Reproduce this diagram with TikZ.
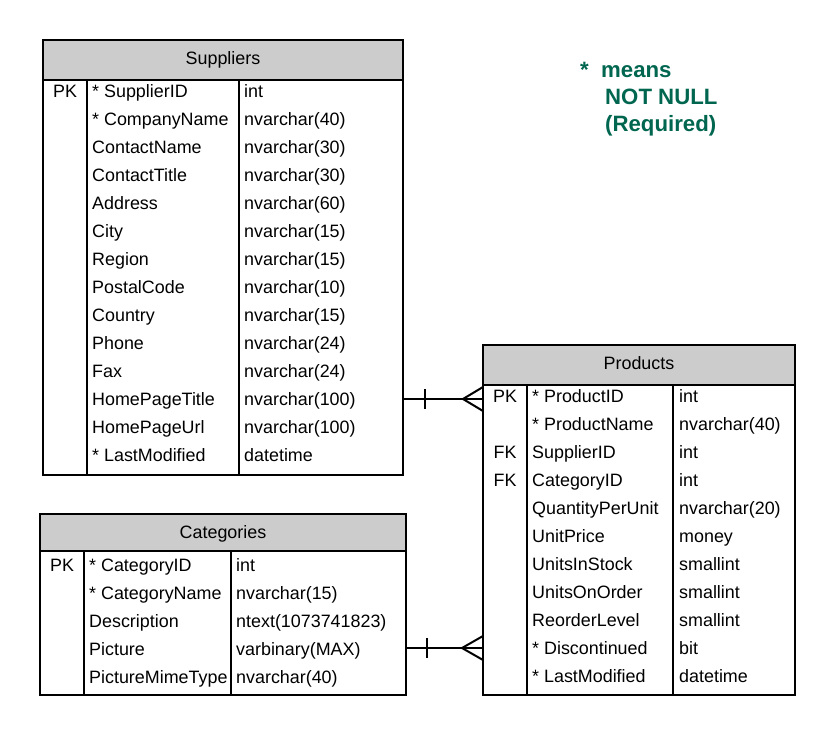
\documentclass[tikz,border=0pt]{standalone}
\usepackage{fontspec}
\setmainfont{Liberation Sans}
\definecolor{hdrgray}{HTML}{CCCCCC}
\definecolor{legendgreen}{HTML}{00664F}
\tikzset{
  tblbox/.style={draw=black, line width=2pt, outer sep=0pt, inner sep=0pt, anchor=north west},
  hdrfill/.style={fill=hdrgray, draw=black, line width=2pt},
  sep/.style={line width=2pt},
  cell/.style={anchor=base west, inner sep=0pt, font=\fontsize{17.9}{20}\selectfont},
  keycell/.style={anchor=base, inner sep=0pt, font=\fontsize{17.9}{20}\selectfont},
  titlecell/.style={anchor=base, inner sep=0pt, font=\fontsize{17.9}{20}\selectfont},
  legendtxt/.style={anchor=base west, inner sep=0pt, text=legendgreen, font=\bfseries\fontsize{22.2}{26}\selectfont},
  rel/.style={line width=2pt},
}
\begin{document}
\begin{tikzpicture}[x=1pt,y=-1pt]
\useasboundingbox (0,0) rectangle (835,736);

% ---------- Suppliers ----------
\filldraw[hdrfill] (43,40) rectangle (403,80);
\node[tblbox, minimum width=360pt, minimum height=435pt] (sup) at (43,40) {};
\draw[sep] (87,80) -- (87,475);
\draw[sep] (239,80) -- (239,475);
\node[titlecell] (sup-t) at (223,64) {Suppliers};
\node[keycell] (sup-pk) at (65,97) {PK};
\foreach \n/\t [count=\i from 0] in {{* SupplierID}/{int},{* CompanyName}/{nvarchar(40)},{ContactName}/{nvarchar(30)},{ContactTitle}/{nvarchar(30)},{Address}/{nvarchar(60)},{City}/{nvarchar(15)},{Region}/{nvarchar(15)},{PostalCode}/{nvarchar(10)},{Country}/{nvarchar(15)},{Phone}/{nvarchar(24)},{Fax}/{nvarchar(24)},{HomePageTitle}/{nvarchar(100)},{HomePageUrl}/{nvarchar(100)},{* LastModified}/{datetime}}{
  \node[cell] (sup-n\i) at (92,97+28*\i) {\n};
  \node[cell] (sup-t\i) at (244,97+28*\i) {\t};
}

% ---------- Products ----------
\filldraw[hdrfill] (483,345) rectangle (795,385);
\node[tblbox, minimum width=312pt, minimum height=350pt] (prod) at (483,345) {};
\draw[sep] (527,385) -- (527,695);
\draw[sep] (673,385) -- (673,695);
\node[titlecell] (prod-t) at (639,369) {Products};
\node[keycell] (prod-pk) at (505,402) {PK};
\node[keycell] (prod-fk1) at (505,458) {FK};
\node[keycell] (prod-fk2) at (505,486) {FK};
\foreach \n/\t [count=\i from 0] in {{* ProductID}/{int},{* ProductName}/{nvarchar(40)},{SupplierID}/{int},{CategoryID}/{int},{QuantityPerUnit}/{nvarchar(20)},{UnitPrice}/{money},{UnitsInStock}/{smallint},{UnitsOnOrder}/{smallint},{ReorderLevel}/{smallint},{* Discontinued}/{bit},{* LastModified}/{datetime}}{
  \node[cell] (prod-n\i) at (532,402+28*\i) {\n};
  \node[cell] (prod-t\i) at (679,402+28*\i) {\t};
}

% ---------- Categories ----------
\filldraw[hdrfill] (40,514) rectangle (406,551);
\node[tblbox, minimum width=366pt, minimum height=181pt] (cat) at (40,514) {};
\draw[sep] (84,551) -- (84,695);
\draw[sep] (231,551) -- (231,695);
\node[titlecell] (cat-t) at (223,538) {Categories};
\node[keycell] (cat-pk) at (62,571) {PK};
\foreach \n/\t [count=\i from 0] in {{* CategoryID}/{int},{* CategoryName}/{nvarchar(15)},{Description}/{ntext(1073741823)},{Picture}/{varbinary(MAX)},{PictureMimeType}/{nvarchar(40)}}{
  \node[cell] (cat-n\i) at (89,571+28*\i) {\n};
  \node[cell] (cat-t\i) at (236,571+28*\i) {\t};
}

% ---------- Relationships ----------
\coordinate (r1a) at (sup.east |- 0,399);
\coordinate (r1b) at (prod.west |- 0,399);
\draw[rel] (r1a) -- (r1b);
\draw[rel] ([xshift=22pt]r1a) ++(0,-10) -- ++(0,20);
\draw[rel] ([xshift=-20pt]r1b) -- ++(20,-12);
\draw[rel] ([xshift=-20pt]r1b) -- ++(20,12);

\coordinate (r2a) at (cat.east |- 0,648);
\coordinate (r2b) at (prod.west |- 0,648);
\draw[rel] (r2a) -- (r2b);
\draw[rel] ([xshift=21pt]r2a) ++(0,-10) -- ++(0,20);
\draw[rel] ([xshift=-21pt]r2b) -- ++(21,-12);
\draw[rel] ([xshift=-21pt]r2b) -- ++(21,12);

% ---------- Legend ----------
\node[legendtxt] (lg1) at (580,77) {*};
\node[legendtxt] (lg2) at (601,77) {means};
\node[legendtxt] (lg3) at (605,104) {NOT NULL};
\node[legendtxt] (lg4) at (605,131) {(Required)};
\end{tikzpicture}
\end{document}
